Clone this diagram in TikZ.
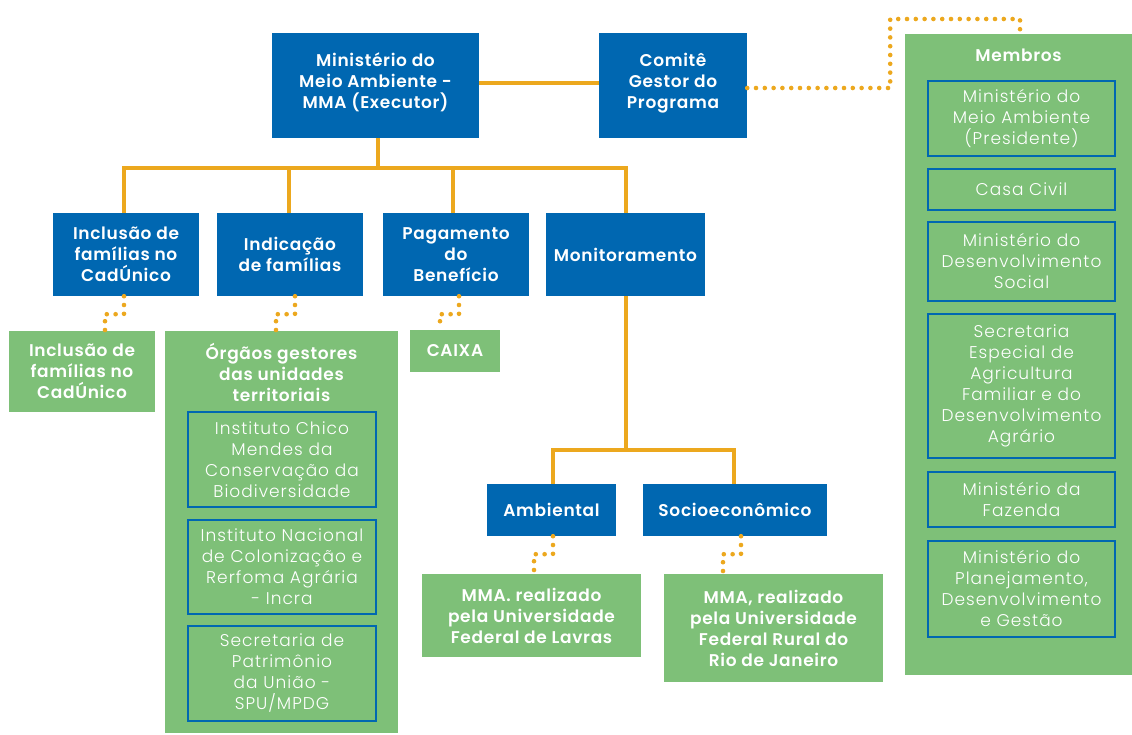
\documentclass[tikz,border=0pt]{standalone}
\usepackage{fontspec}
\setmainfont{Poppins}[BoldFont={Poppins SemiBold}, BoldFeatures={LetterSpace=4}]
\newfontfamily\lightfont{Poppins Light}[LetterSpace=6]
\definecolor{cblue}{RGB}{0,103,177}
\definecolor{cgreen}{RGB}{126,192,120}
\definecolor{corange}{RGB}{236,168,30}
\tikzset{
  base/.style={rectangle, inner sep=0pt, align=center, text=white,
    font=\fontsize{17}{21}\selectfont},
  bluebox/.style={base, fill=cblue, font=\fontsize{17}{21}\selectfont\bfseries},
  greenbox/.style={base, fill=cgreen, font=\fontsize{17}{21}\selectfont\bfseries},
  innerbox/.style={base, fill=cgreen, draw=cblue, line width=2pt,
    font=\fontsize{17}{21}\selectfont\lightfont},
  titletext/.style={base, font=\fontsize{17}{21}\selectfont\bfseries},
  orgline/.style={draw=corange, line width=4pt},
  dotline/.style={draw=corange, line width=4.6pt, line cap=round,
    dash pattern=on 0pt off 8.8pt},
}
\begin{document}
\begin{tikzpicture}[x=1pt,y=-1pt]
\useasboundingbox (0,0) rectangle (1132,734);
% top level
\node[bluebox, minimum width=207pt, minimum height=105pt] (mma) at (375.5,85.5)
  {Ministério do\\Meio Ambiente -\\MMA (Executor)\rule[-9pt]{0pt}{0pt}};
\node[bluebox, minimum width=148pt, minimum height=105pt] (comite) at (673,85.5)
  {Comitê\\Gestor do\\Programa\rule[-9pt]{0pt}{0pt}};
% second level
\node[bluebox, minimum width=146pt, minimum height=83pt] (inc) at (126,254.5)
  {Inclusão de\\famílias no\\CadÚnico};
\node[bluebox, minimum width=146pt, minimum height=83pt] (ind) at (290,254.5)
  {Indicação\\de famílias};
\node[bluebox, minimum width=146pt, minimum height=83pt] (pag) at (456,254.5)
  {Pagamento\\do\\Benefício};
\node[bluebox, minimum width=159pt, minimum height=83pt] (mon) at (625.5,254.5)
  {Monitoramento};
\node[bluebox, minimum width=129pt, minimum height=52pt] (amb) at (551.5,510)
  {Ambiental};
\node[bluebox, minimum width=184pt, minimum height=52pt] (soc) at (735,510)
  {Socioeconômico};
% green boxes
\node[greenbox, minimum width=146pt, minimum height=81pt] (ginc) at (82,371.5)
  {Inclusão de\\famílias no\\CadÚnico};
\node[greenbox, minimum width=233pt, minimum height=402pt] (gorg) at (281.5,532) {};
\node[titletext] (gorgT) at (281.5,372) {Órgãos gestores\\das unidades\\territoriais};
\node[innerbox, minimum width=188pt, minimum height=95pt] (o1) at (282,459.5)
  {Instituto Chico\\Mendes da\\Conservação da\\Biodiversidade};
\node[innerbox, minimum width=188pt, minimum height=94pt] (o2) at (282,567)
  {Instituto Nacional\\de Colonização e\\Rerfoma Agrária\\- Incra};
\node[innerbox, minimum width=188pt, minimum height=95pt] (o3) at (282,673.5)
  {Secretaria de\\Patrimônio\\da União -\\SPU/MPDG};
\node[greenbox, minimum width=90pt, minimum height=42pt] (caixa) at (455,351) {CAIXA};
\node[greenbox, minimum width=219pt, minimum height=83pt] (lav) at (531.5,615.5)
  {MMA. realizado\\pela Universidade\\Federal de Lavras};
\node[greenbox, minimum width=219pt, minimum height=108pt] (rio) at (773.5,628)
  {MMA, realizado\\pela Universidade\\Federal Rural do\\Rio de Janeiro};
% members
\node[greenbox, minimum width=227pt, minimum height=641pt] (mem) at (1018.5,354.5) {};
\node[titletext] (memT) at (1018.5,55) {Membros};
\node[innerbox, minimum width=187pt, minimum height=75pt] (m1) at (1021.5,118.5)
  {Ministério do\\Meio Ambiente\\(Presidente)};
\node[innerbox, minimum width=187pt, minimum height=41pt] (m2) at (1021.5,189.5)
  {Casa Civil};
\node[innerbox, minimum width=187pt, minimum height=79pt] (m3) at (1021.5,261.5)
  {Ministério do\\Desenvolvimento\\Social};
\node[innerbox, minimum width=187pt, minimum height=144pt] (m4) at (1021.5,386)
  {Secretaria\\Especial de\\Agricultura\\Familiar e do\\Desenvolvimento\\Agrário};
\node[innerbox, minimum width=187pt, minimum height=55pt] (m5) at (1021.5,499.5)
  {Ministério da\\Fazenda};
\node[innerbox, minimum width=187pt, minimum height=96pt] (m6) at (1021.5,589)
  {Ministério do\\Planejamento,\\Desenvolvimento\\e Gestão};
% solid connectors
\coordinate (hub1) at (378,168);
\coordinate (hub2) at (625.5,450);
\draw[orgline] ([yshift=2.5pt]mma.east) -- ([yshift=2.5pt]comite.west);
\draw[orgline] ([xshift=2.5pt]mma.south) -- (hub1);
\draw[orgline] ([xshift=-2pt]inc.north) |- ([xshift=0.5pt]mon.north |- hub1) -- ([xshift=0.5pt]mon.north);
\draw[orgline] ([xshift=-1pt]ind.north) -- ([xshift=-1pt]ind.north |- hub1);
\draw[orgline] ([xshift=-3pt]pag.north) -- ([xshift=-3pt]pag.north |- hub1);
\draw[orgline] (mon.south) -- (hub2);
\draw[orgline] ([xshift=1.5pt]amb.north) |- (hub2) -| ([xshift=-1pt]soc.north);
% dotted connectors
\draw[dotline] ([yshift=-2.5pt]comite.east) -- ++(143,0) -- ++(0,-69) -| ([xshift=1.5pt]mem.north);
\draw[dotline] ([xshift=-2pt]inc.south) -- ++(0,18) -| ([xshift=23pt]ginc.north);
\draw[dotline] ([xshift=5pt]ind.south) -- ++(0,18) -| ([xshift=-5.5pt]gorg.north);
\draw[dotline] ([xshift=3pt]pag.south) -- ++(0,18) -| ([xshift=-15pt]caixa.north);
\draw[dotline] ([xshift=1.5pt]amb.south) -- ++(0,18) -| ([xshift=2.5pt]lav.north);
\draw[dotline] ([xshift=6pt]soc.south) -- ++(0,18) -| ([xshift=-50.5pt]rio.north);
\end{tikzpicture}
\end{document}
